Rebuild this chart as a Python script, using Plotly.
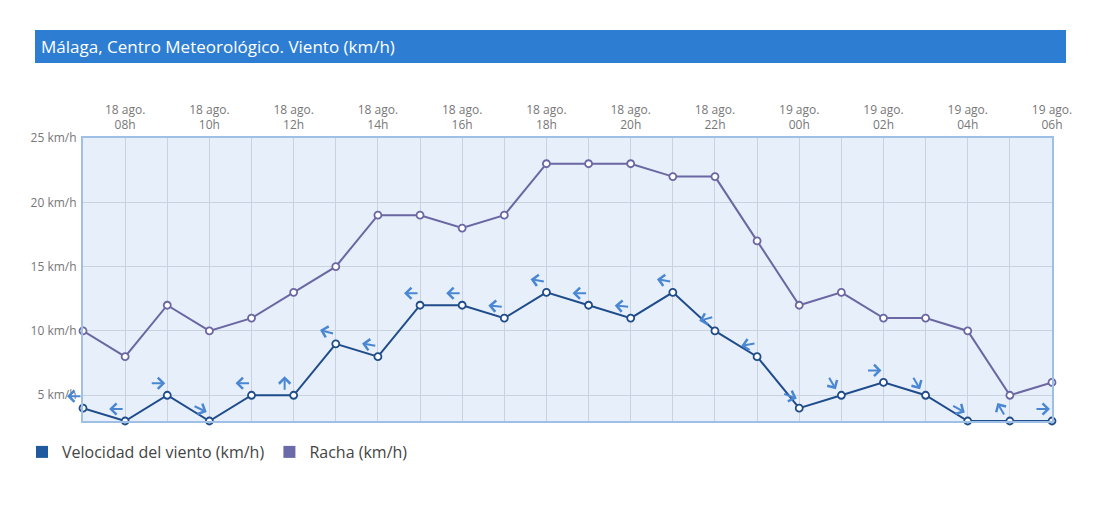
import math
import plotly.graph_objects as go

# ---------------- data ----------------
times = [
    "2024-08-18 07:00", "2024-08-18 08:00", "2024-08-18 09:00", "2024-08-18 10:00",
    "2024-08-18 11:00", "2024-08-18 12:00", "2024-08-18 13:00", "2024-08-18 14:00",
    "2024-08-18 15:00", "2024-08-18 16:00", "2024-08-18 17:00", "2024-08-18 18:00",
    "2024-08-18 19:00", "2024-08-18 20:00", "2024-08-18 21:00", "2024-08-18 22:00",
    "2024-08-18 23:00", "2024-08-19 00:00", "2024-08-19 01:00", "2024-08-19 02:00",
    "2024-08-19 03:00", "2024-08-19 04:00", "2024-08-19 05:00", "2024-08-19 06:00",
]
velocidad = [4, 3, 5, 3, 5, 5, 9, 8, 12, 12, 11, 13, 12, 11, 13, 10, 8, 4, 5, 6, 5, 3, 3, 3]
racha = [10, 8, 12, 10, 11, 13, 15, 19, 19, 18, 19, 23, 23, 23, 22, 22, 17, 12, 13, 11, 11, 10, 5, 6]
# bearing (degrees) the direction arrow points to: 0=up, 90=right
arrow_bearing = [270, 270, 90, 115, 270, 0, 285, 280, 270, 270, 275, 280, 270, 275, 280,
                 255, 260, 110, 150, 90, 150, 120, 330, 90]

tick_vals = [
    "2024-08-18 08:00", "2024-08-18 10:00", "2024-08-18 12:00", "2024-08-18 14:00",
    "2024-08-18 16:00", "2024-08-18 18:00", "2024-08-18 20:00", "2024-08-18 22:00",
    "2024-08-19 00:00", "2024-08-19 02:00", "2024-08-19 04:00", "2024-08-19 06:00",
]
tick_text = [
    "18 ago.<br>08h", "18 ago.<br>10h", "18 ago.<br>12h", "18 ago.<br>14h",
    "18 ago.<br>16h", "18 ago.<br>18h", "18 ago.<br>20h", "18 ago.<br>22h",
    "19 ago.<br>00h", "19 ago.<br>02h", "19 ago.<br>04h", "19 ago.<br>06h",
]

title_text = "Málaga, Centro Meteorológico. Viento (km/h)"
name_vel = "Velocidad del viento (km/h)"
name_racha = "Racha (km/h)"

# ---------------- styling ----------------
FONT = "Open Sans"
C_VEL = "#1f4c8a"
C_RACHA = "#6a67a3"
C_ARROW = "#4a87d3"
C_GRID = "#c9d2de"
C_BORDER = "#9ebfe6"

OFF = 8  # page body margin
W, H = 1100, 512
# desired plot area in screen pixels
PX0, PX1, PY0, PY1 = 83, 1052, 138, 421
ML, MT = PX0 - OFF, PY0 - OFF
MR, MB = W - (PX1 - OFF), H - (PY1 - OFF)
PW = PX1 - PX0
PH = PY1 - PY0


def px(sx):
    return (sx - PX0) / PW


def py(sy):
    return (PY1 - sy) / PH


fig = go.Figure()

fig.add_trace(go.Scatter(
    x=times, y=racha, mode="lines+markers", name=name_racha, showlegend=False,
    line=dict(color=C_RACHA, width=2),
    marker=dict(size=7, color="white", line=dict(color=C_RACHA, width=1.8)),
    cliponaxis=False,
))
fig.add_trace(go.Scatter(
    x=times, y=velocidad, mode="lines+markers", name=name_vel, showlegend=False,
    line=dict(color=C_VEL, width=2),
    marker=dict(size=7, color="white", line=dict(color=C_VEL, width=1.8)),
    cliponaxis=False,
))

# legend-only entries with square symbols
fig.add_trace(go.Scatter(
    x=[None], y=[None], mode="markers", name=name_vel,
    marker=dict(symbol="square", size=12, color="#1f5a9e"),
))
fig.add_trace(go.Scatter(
    x=[None], y=[None], mode="markers", name=name_racha,
    marker=dict(symbol="square", size=12, color="#6b6aa8"),
))

# wind direction arrows
L = 14
annotations = []
for t, v, b in zip(times, velocidad, arrow_bearing):
    dx = math.sin(math.radians(b))
    dy = -math.cos(math.radians(b))  # screen y (down positive)
    cx, cy = -9, -12  # arrow centre relative to point, screen px
    hx = cx + L / 2 * dx
    hy = cy + L / 2 * dy
    annotations.append(dict(
        x=t, y=v, xref="x", yref="y", text="", showarrow=True,
        font=dict(size=1), borderpad=0,
        arrowhead=4, arrowsize=1.1, arrowwidth=2, arrowcolor=C_ARROW,
        ax=-L * dx, ay=-L * dy,
        xshift=hx, yshift=-hy,
    ))

# title bar text
annotations.append(dict(
    x=px(39), y=py(47), xref="paper", yref="paper",
    xanchor="left", yanchor="middle", showarrow=False,
    text=title_text, font=dict(family=FONT, size=17, color="white"),
))

shapes = [dict(
    type="rect", xref="paper", yref="paper", layer="below",
    x0=px(35), x1=px(1066), y0=py(63), y1=py(30),
    fillcolor="#2d7dd2", line=dict(width=0),
)]

fig.update_layout(
    width=W, height=H,
    margin=dict(l=ML, r=MR, t=MT, b=MB),
    paper_bgcolor="white",
    plot_bgcolor="#e7effa",
    font=dict(family=FONT, color="#777777", size=12),
    showlegend=True,
    legend=dict(
        orientation="h", x=px(22), y=py(435),
        xanchor="left", yanchor="top",
        font=dict(family=FONT, size=16, color="#444444"),
        itemwidth=30, tracegroupgap=0, bgcolor="rgba(0,0,0,0)",
    ),
    annotations=annotations,
    shapes=shapes,
    xaxis=dict(
        side="top", type="date",
        range=[times[0], times[-1]],
        tickvals=tick_vals, ticktext=tick_text,
        showgrid=True, gridcolor=C_GRID, gridwidth=1,
        minor=dict(dtick=3600000, showgrid=True, gridcolor=C_GRID, gridwidth=1),
        showline=True, linecolor=C_BORDER, linewidth=2, mirror=True,
        ticks="", ticklabelstandoff=2,
        tickfont=dict(family=FONT, size=12, color="#777777"),
        zeroline=False,
    ),
    yaxis=dict(
        range=[3, 25], tick0=0, dtick=5, ticksuffix=" km/h",
        showgrid=True, gridcolor=C_GRID, gridwidth=1,
        showline=True, linecolor=C_BORDER, linewidth=2, mirror=True,
        ticks="", ticklabelstandoff=2,
        tickfont=dict(family=FONT, size=12, color="#777777"),
        zeroline=False,
    ),
)

fig.write_html("out.html")
